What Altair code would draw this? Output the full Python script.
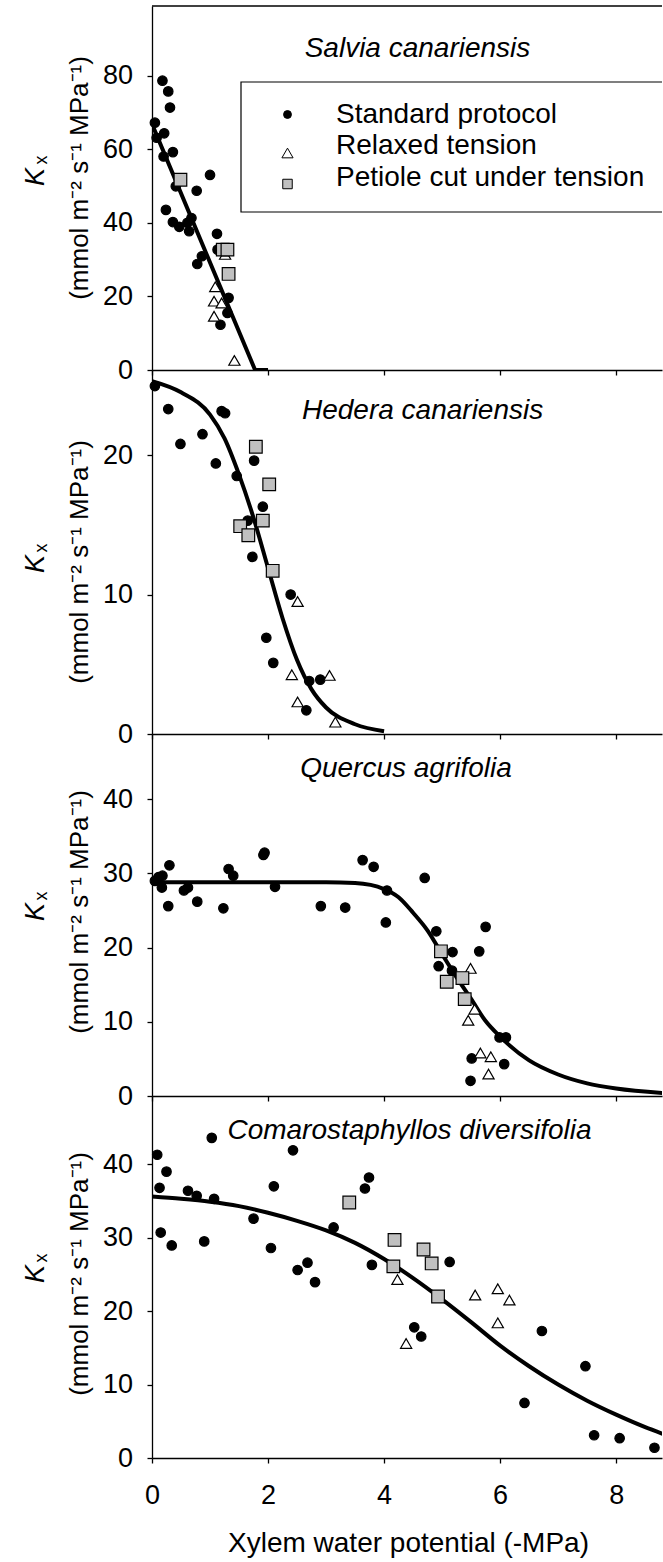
import altair as alt
import pandas as pd

FONT = "Liberation Sans"
PROTOCOLS = ["Standard protocol", "Relaxed tension", "Petiole cut under tension"]
SHAPES = ["circle", "triangle-up", "square"]
FILLS = ["black", "white", "#c0c0c0"]
SIZES = [90, 160, 105]

X_TICKS = [0, 2, 4, 6, 8]
X_TITLE = "Xylem water potential (-MPa)"
Y_TITLE_K = "K"
Y_TITLE_SUB = "x"
Y_TITLE_UNITS = "(mmol m\u207b\u00b2 s\u207b\u00b9 MPa\u207b\u00b9)"

# ---- Panel 1: Salvia canariensis ----
p1_name = "Salvia canariensis"
p1_std_x = [0.18, 0.28, 0.31, 0.05, 0.08, 0.21, 0.20, 0.36, 0.41, 1.00, 0.77, 0.24, 0.36, 0.47,
            0.61, 0.64, 0.68, 1.12, 1.13, 0.86, 0.78, 1.32, 1.30, 1.18]
p1_std_y = [78.6, 75.7, 71.3, 67.2, 63.1, 64.3, 58.0, 59.2, 49.9, 53.0, 48.7, 43.5, 40.2, 38.9,
            40.0, 37.7, 41.3, 37.0, 32.7, 30.9, 28.8, 19.6, 15.5, 12.3]
p1_rel_x = [1.09, 1.07, 1.20, 1.07, 1.26, 1.42]
p1_rel_y = [22.6, 18.7, 18.2, 14.6, 31.4, 2.6]
p1_pet_x = [0.49, 1.22, 1.30, 1.32]
p1_pet_y = [51.7, 32.7, 32.7, 26.1]
p1_fit_x = [0.0, 1.777, 2.0]
p1_fit_y = [66.8, 0.0, 0.0]
p1_ticks = [0, 20, 40, 60, 80]

# ---- Panel 2: Hedera canariensis ----
p2_name = "Hedera canariensis"
p2_std_x = [0.05, 0.28, 0.49, 0.87, 1.20, 1.26, 1.10, 1.46, 1.76, 1.91, 1.65, 1.73, 2.39, 1.97,
            2.09, 2.71, 2.90, 2.66]
p2_std_y = [24.95, 23.3, 20.8, 21.5, 23.15, 23.0, 19.4, 18.5, 19.6, 16.3, 15.3, 12.7, 10.0, 6.9,
            5.1, 3.8, 3.9, 1.7]
p2_rel_x = [2.51, 2.41, 2.51, 3.06, 3.16]
p2_rel_y = [9.5, 4.25, 2.3, 4.2, 0.85]
p2_pet_x = [1.79, 2.02, 1.91, 1.52, 1.66, 2.08]
p2_pet_y = [20.6, 17.9, 15.3, 14.9, 14.25, 11.7]
p2_fit_x = [0.0, 0.5, 1.0, 1.25, 1.5, 1.75, 2.0, 2.25, 2.5, 2.75, 3.0, 3.5, 4.0]
p2_fit_y = [25.3, 24.5, 22.9, 21.2, 18.6, 15.5, 11.9, 8.3, 5.3, 3.2, 1.9, 0.7, 0.2]
p2_ticks = [0, 10, 20]

# ---- Panel 3: Quercus agrifolia ----
p3_name = "Quercus agrifolia"
p3_std_x = [0.05, 0.11, 0.18, 0.17, 0.30, 0.28, 0.55, 0.62, 0.78, 1.23, 1.32, 1.40, 1.92, 1.94,
            2.12, 2.91, 3.33, 3.63, 3.82, 4.05, 4.03, 4.70, 4.90, 5.18, 4.94, 5.17, 5.64, 5.75,
            5.99, 6.10, 5.51, 6.07, 5.49]
p3_std_y = [29.0, 29.5, 29.7, 28.1, 31.1, 25.6, 27.7, 28.1, 26.2, 25.3, 30.6, 29.7, 32.5, 32.8,
            28.2, 25.6, 25.4, 31.8, 30.9, 27.7, 23.4, 29.4, 22.2, 19.4, 17.5, 16.9, 19.5, 22.8,
            7.9, 7.9, 5.06, 4.3, 2.05]
p3_rel_x = [5.49, 5.56, 5.45, 5.66, 5.84, 5.80]
p3_rel_y = [17.2, 11.7, 10.2, 5.8, 5.3, 2.95]
p3_pet_x = [4.98, 5.08, 5.35, 5.39]
p3_pet_y = [19.5, 15.4, 15.9, 13.06]
p3_fit_x = [0.0, 1.0, 2.0, 3.0, 3.5, 4.0, 4.25, 4.5, 4.75, 5.0, 5.25, 5.5, 5.75, 6.0, 6.5,
            7.0, 7.5, 8.0, 8.8]
p3_fit_y = [28.8, 28.8, 28.8, 28.8, 28.7, 27.9, 26.8, 24.7, 22.3, 19.1, 16.0, 13.1, 10.1, 8.0,
            4.8, 2.9, 1.7, 1.0, 0.4]
p3_ticks = [0, 10, 20, 30, 40]

# ---- Panel 4: Comarostaphyllos diversifolia ----
p4_name = "Comarostaphyllos diversifolia"
p4_std_x = [0.09, 0.25, 0.13, 0.15, 0.34, 0.62, 0.77, 0.90, 1.03, 1.07, 1.75, 2.05, 2.10, 2.43,
            2.51, 2.68, 2.81, 3.13, 3.67, 3.74, 3.79, 5.13, 4.52, 4.64, 6.72, 7.47, 6.42, 7.62,
            8.06, 8.66]
p4_std_y = [41.3, 39.0, 36.8, 30.7, 28.95, 36.4, 35.7, 29.5, 43.6, 35.3, 32.6, 28.6, 37.0, 41.9,
            25.6, 26.6, 23.95, 31.4, 36.7, 38.2, 26.3, 26.7, 17.8, 16.55, 17.3, 12.5, 7.5, 3.1,
            2.7, 1.4]
p4_rel_x = [4.23, 4.38, 5.57, 5.96, 6.16, 5.96]
p4_rel_y = [24.3, 15.6, 22.2, 23.05, 21.5, 18.4]
p4_pet_x = [3.40, 4.18, 4.16, 4.68, 4.82, 4.93]
p4_pet_y = [34.8, 29.7, 26.1, 28.4, 26.5, 22.0]
p4_fit_x = [0.0, 0.5, 1.0, 1.5, 2.0, 2.5, 3.0, 3.5, 4.0, 4.5, 5.0, 5.5, 6.0, 6.5, 7.0, 7.5,
            8.0, 8.5, 8.8]
p4_fit_y = [35.6, 35.3, 34.9, 34.3, 33.4, 32.3, 31.0, 29.3, 27.1, 24.5, 21.6, 18.5, 15.3, 12.5,
            10.0, 7.8, 5.9, 4.2, 3.3]
p4_ticks = [0, 10, 20, 30, 40]

W = 510
X_MAX = 8.79
ONE = pd.DataFrame({"one": [0]})


def points_df(sx, sy, rx, ry, px, py):
    rows = []
    for lab, xs, ys in zip(PROTOCOLS, [sx, rx, px], [sy, ry, py]):
        for a, b in zip(xs, ys):
            rows.append({"x": a, "y": b, "protocol": lab})
    return pd.DataFrame(rows)


def text_layer(txt, x, y, size, angle=0, italic=False, align="center", baseline="middle"):
    kw = dict(text=txt, font=FONT, fontSize=size, color="black", align=align, baseline=baseline)
    if angle:
        kw["angle"] = angle
    if italic:
        kw["fontStyle"] = "italic"
    return alt.Chart(ONE).mark_text(**kw).encode(x=alt.value(x), y=alt.value(y))


def panel(name, sx, sy, rx, ry, px, py, fx, fy, ticks, ymax, height, title_x, title_y,
          ylab_c, bottom=False, interp="monotone", extra=None):
    xscale = alt.Scale(domain=[0, X_MAX], nice=False, zero=False)
    yscale = alt.Scale(domain=[0, ymax], nice=False, zero=False)
    if bottom:
        xaxis = alt.Axis(values=X_TICKS, title=X_TITLE, labelPadding=19, labelFlush=False,
                         titleBaseline="alphabetic", titleY=93, titleX=256, titleAlign="center")
    else:
        xaxis = alt.Axis(values=X_TICKS, title=None, labels=False)
    yaxis = alt.Axis(values=ticks, title=None, labelPadding=14.5)

    fit = alt.Chart(pd.DataFrame({"x": fx, "y": fy})).mark_line(
        color="black", strokeWidth=4, interpolate=interp, clip=True
    ).encode(x=alt.X("x:Q", scale=xscale, axis=xaxis), y=alt.Y("y:Q", scale=yscale, axis=yaxis))

    pts = alt.Chart(points_df(sx, sy, rx, ry, px, py)).mark_point(
        filled=True, stroke="black", strokeWidth=1.2, opacity=1, strokeOpacity=1
    ).encode(
        x=alt.X("x:Q", scale=xscale, axis=xaxis),
        y=alt.Y("y:Q", scale=yscale, axis=yaxis),
        shape=alt.Shape("protocol:N", scale=alt.Scale(domain=PROTOCOLS, range=SHAPES), legend=None),
        fill=alt.Fill("protocol:N", scale=alt.Scale(domain=PROTOCOLS, range=FILLS), legend=None),
        size=alt.Size("protocol:N", scale=alt.Scale(domain=PROTOCOLS, range=SIZES), legend=None),
    )

    layers = [fit, pts]
    layers.append(text_layer(name, title_x, title_y, 28, italic=True, baseline="alphabetic"))
    k_y, sub_y, unit_y = ylab_c
    layers.append(text_layer(Y_TITLE_K, -116, k_y, 27, angle=270, italic=True))
    layers.append(text_layer(Y_TITLE_SUB, -110.5, sub_y, 18, angle=270))
    layers.append(text_layer(Y_TITLE_UNITS, -72, unit_y, 26, angle=270))
    if extra:
        layers.extend(extra)
    return alt.layer(*layers).properties(width=W, height=height)


# legend (drawn inside the first panel)
legend_layers = [
    alt.Chart(ONE).mark_rect(fill="white", stroke="black", strokeWidth=1.2, clip=True).encode(
        x=alt.value(89), x2=alt.value(540), y=alt.value(76), y2=alt.value(206)),
]
leg_sym_y = [108.5, 147, 178]
leg_txt_y = [116.7, 148.3, 180]
leg_sizes = [62, 125, 90]
for lab, shp, fil, sz, sy_, ty_ in zip(PROTOCOLS, SHAPES, FILLS, leg_sizes, leg_sym_y, leg_txt_y):
    legend_layers.append(
        alt.Chart(ONE).mark_point(shape=shp, filled=True, fill=fil, stroke="black", strokeWidth=1.0,
                                  size=sz, opacity=1).encode(x=alt.value(135.5), y=alt.value(sy_)))
    legend_layers.append(text_layer(lab, 184, ty_, 28, align="left", baseline="alphabetic"))
legend_layers.append(
    alt.Chart(ONE).mark_rule(color="black", strokeWidth=1.3).encode(
        x=alt.value(0), x2=alt.value(W), y=alt.value(0)))

p1 = panel(p1_name, p1_std_x, p1_std_y, p1_rel_x, p1_rel_y, p1_pet_x, p1_pet_y, p1_fit_x, p1_fit_y,
           p1_ticks, 98.9, 364, 265.5, 50.7, (171, 154, 172), interp="linear", extra=legend_layers)
p2 = panel(p2_name, p2_std_x, p2_std_y, p2_rel_x, p2_rel_y, p2_pet_x, p2_pet_y, p2_fit_x, p2_fit_y,
           p2_ticks, 26.1, 364, 270.6, 49.3, (194, 178, 192))
p3 = panel(p3_name, p3_std_x, p3_std_y, p3_rel_x, p3_rel_y, p3_pet_x, p3_pet_y, p3_fit_x, p3_fit_y,
           p3_ticks, 48.8, 362, 254, 43, (178, 162, 178))
p4 = panel(p4_name, p4_std_x, p4_std_y, p4_rel_x, p4_rel_y, p4_pet_x, p4_pet_y, p4_fit_x, p4_fit_y,
           p4_ticks, 49.3, 362, 257.5, 43, (178, 162, 178), bottom=True)

chart = alt.vconcat(p1, p2, p3, p4, spacing=0, bounds="flush").properties(
    padding={"left": 22, "top": 5, "right": 0, "bottom": 2},
    background="white",
).configure_view(stroke=None).configure_axis(
    labelFont=FONT, labelFontSize=27, labelColor="black",
    titleFont=FONT, titleFontSize=28, titleFontWeight="normal", titleColor="black",
    domainColor="black", tickColor="black", domainWidth=1.3, tickWidth=1.3, tickSize=5,
    grid=False,
)

chart.save("out.html", embed_options={"renderer": "svg", "actions": False})
